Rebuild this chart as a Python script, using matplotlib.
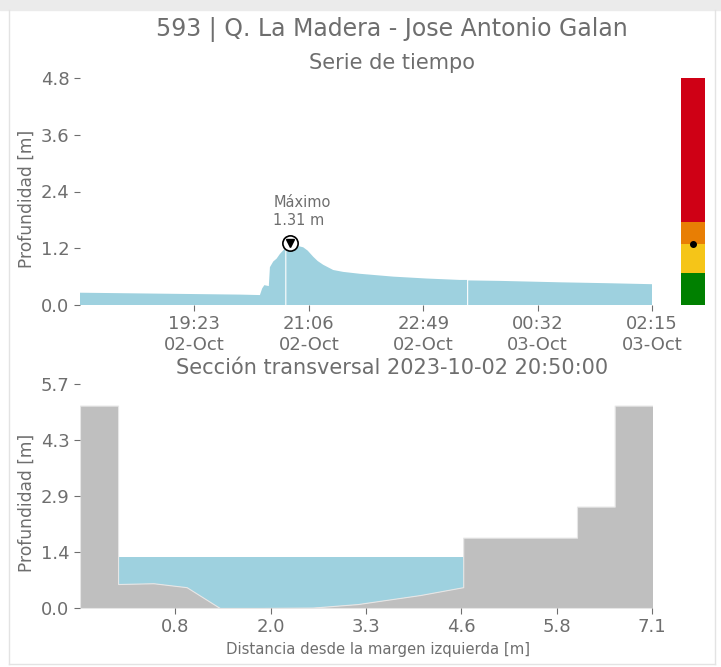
import numpy as np
import matplotlib
matplotlib.use("Agg")
import matplotlib.pyplot as plt
import matplotlib.dates as mdates
from matplotlib.patches import Rectangle
from datetime import datetime, timedelta

# Serie de tiempo: minutos desde 2023-10-02 17:40 y profundidad [m]
start = datetime(2023, 10, 2, 17, 40)
end = datetime(2023, 10, 3, 2, 15)
minutes = [0, 36, 72, 108, 144, 162, 164, 166, 170, 171, 174, 177, 180, 184,
           184.8, 185.3, 185.8, 189, 194, 201, 205, 210, 214, 219, 228, 237,
           252, 282, 312, 342, 348.5, 349.0, 349.5, 378, 432, 477, 515]
depth = [0.26, 0.25, 0.24, 0.23, 0.22, 0.21, 0.35, 0.42, 0.40, 0.80, 0.92,
         0.98, 1.08, 1.18, 1.19, np.nan, 1.20, 1.31, 1.26, 1.22, 1.15, 1.02,
         0.93, 0.85, 0.74, 0.70, 0.66, 0.60, 0.56, 0.53, 0.53, np.nan, 0.52,
         0.51, 0.48, 0.46, 0.44]

# Umbrales del semaforo [m]
levels = [0.68, 1.28, 1.76, 4.8]
level_colors = ['#008000', '#f5c518', '#e87e04', '#cf0015']
current_level = 1.30

# Seccion transversal
dist = [-0.485, 0.02, 0.02, 0.49, 0.93, 1.37, 1.91, 2.6, 3.2, 4.03, 4.6, 4.6,
        6.11, 6.11, 6.61, 6.61, 7.12]
ground = [5.15, 5.15, 0.61, 0.63, 0.53, 0.0, 0.0, 0.01, 0.1, 0.33, 0.53, 1.79,
          1.79, 2.58, 2.58, 5.15, 5.15]
water_level = 1.31

txt = '#6e6e6e'
water_color = '#9ed1df'
ground_color = '#bfbfbf'

fig = plt.figure(figsize=(7.21, 6.67), dpi=100, facecolor='white')

# marco gris de la captura
fig.patches.append(Rectangle((0, 1 - 10 / 667), 1, 10 / 667, transform=fig.transFigure,
                             color='#ebebeb', zorder=0))
fig.add_artist(plt.Line2D([8.5 / 721, 8.5 / 721], [0.005, 1 - 10 / 667], color='#e3e3e3', lw=1))
fig.add_artist(plt.Line2D([714.5 / 721, 714.5 / 721], [0.005, 1 - 10 / 667], color='#e3e3e3', lw=1))
fig.add_artist(plt.Line2D([8.5 / 721, 714.5 / 721], [3 / 667, 3 / 667], color='#e3e3e3', lw=1))

fig.text(392 / 721, 1 - 30 / 667, '593 | Q. La Madera - Jose Antonio Galan',
         ha='center', va='center', fontsize=17, color=txt)


def style(ax):
    for s in ax.spines.values():
        s.set_visible(False)
    ax.tick_params(colors=txt, labelcolor=txt, labelsize=13, length=4, width=0.8)


# --- Serie de tiempo ---
ax1 = fig.add_axes([80 / 721, 1 - 305 / 667, 572 / 721, 227 / 667])
times = [start + timedelta(minutes=m) for m in minutes]
ax1.fill_between(times, 0, depth, color=water_color, lw=0)
ax1.set_xlim(start, end)
ax1.set_ylim(0, 4.8)
ax1.set_yticks(np.linspace(0, 4.8, 5))
ax1.set_yticklabels([f'{v:.1f}' for v in np.linspace(0, 4.8, 5)])
xt = [start + (end - start) * i / 5 for i in range(1, 6)]
ax1.set_xticks(xt)
ax1.xaxis.set_major_formatter(mdates.DateFormatter('%H:%M\n%d-%b'))
ax1.set_ylabel('Profundidad [m]', color=txt, fontsize=12.3)
ax1.yaxis.set_label_coords(-0.077, 0.5 - 7 / 227)
style(ax1)
fig.text(392 / 721, 1 - 63 / 667, 'Serie de tiempo', ha='center', va='center',
         fontsize=15, color=txt)

imax = int(np.nanargmax(depth))
ax1.plot(times[imax], depth[imax], 'o', ms=11, mfc='white', mec='black', mew=1.2, zorder=5)
ax1.plot(times[imax], depth[imax], 'v', ms=6, color='black', zorder=6)
ax1.annotate(f'Máximo\n{depth[imax]:.2f} m', xy=(times[imax], depth[imax]),
             xytext=(-12, 11), textcoords='offset points', ha='left', va='bottom',
             fontsize=10.5, color=txt)

# --- Semaforo ---
ax2 = fig.add_axes([681 / 721, 1 - 305 / 667, 24 / 721, 227 / 667])
bottoms = [0] + levels[:-1]
ax2.bar([0] * 4, np.array(levels) - np.array(bottoms), bottom=bottoms,
        color=level_colors, width=1, lw=0)
ax2.plot(0, current_level, 'o', color='black', ms=4)
ax2.set_xlim(-0.5, 0.5)
ax2.set_ylim(0, 4.8)
ax2.axis('off')

# --- Seccion transversal ---
ax3 = fig.add_axes([80 / 721, 1 - 608 / 667, 572 / 721, 224 / 667])
ax3.fill_between(dist[2:11], ground[2:11], water_level, color=water_color, lw=0)
ax3.fill_between(dist, 0, ground, color=ground_color, edgecolor='#e6e6e6', lw=0.8)
ax3.set_xlim(-0.485, 7.105)
ax3.set_ylim(0, 5.7)
yt = np.linspace(0, 5.7, 5)
ax3.set_yticks(yt)
ax3.set_yticklabels([f'{v:.1f}' for v in yt])
xt3 = np.linspace(-0.485, 7.105, 7)[1:]
ax3.set_xticks(xt3)
ax3.set_xticklabels([f'{v:.1f}' for v in xt3])
ax3.set_ylabel('Profundidad [m]', color=txt, fontsize=12.3)
ax3.yaxis.set_label_coords(-0.077, 0.5 - 7 / 224)
ax3.set_xlabel('Distancia desde la margen izquierda [m]', color=txt, fontsize=10.7)
ax3.xaxis.set_label_coords((378 - 80) / 572, -0.15)
style(ax3)
fig.text(392 / 721, 1 - 368 / 667, 'Sección transversal 2023-10-02 20:50:00',
         ha='center', va='center', fontsize=15, color=txt)

fig.savefig('out.png', dpi=100, facecolor='white')
